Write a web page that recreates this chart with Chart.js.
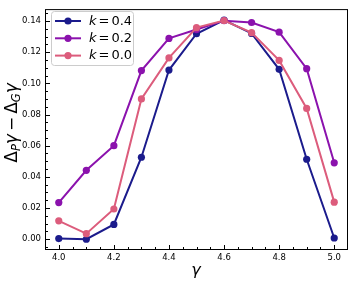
<!DOCTYPE html>
<html>
<head>
<meta charset="utf-8">
<script src="https://cdn.jsdelivr.net/npm/chart.js@4.4.1/dist/chart.umd.min.js"></script>
<style>
  html, body { margin: 0; padding: 0; background: #fff; }
  canvas { display: block; }
</style>
</head>
<body>
<canvas id="gapChart" width="353" height="283"></canvas>
<script>
const gammaVals = [4.0, 4.1, 4.2, 4.3, 4.4, 4.5, 4.6, 4.7, 4.8, 4.9, 5.0]
const k04 = [0.0004, 0.0000, 0.0095, 0.0526, 0.1085, 0.1318, 0.1405, 0.1320, 0.1090, 0.0513, 0.0008]
const k02 = [0.0235, 0.0442, 0.0600, 0.1082, 0.1288, 0.1345, 0.1402, 0.1390, 0.1328, 0.1094, 0.0490]
const k00 = [0.0118, 0.0036, 0.0194, 0.0900, 0.1163, 0.1357, 0.1403, 0.1325, 0.1147, 0.0839, 0.0238]
const seriesNames = ['0.4', '0.2', '0.0']
const xTicks = [4.0, 4.2, 4.4, 4.6, 4.8, 5.0]
const yTicks = [0.00, 0.02, 0.04, 0.06, 0.08, 0.10, 0.12, 0.14]

const colors = ['#1b1b8c', '#8b12ad', '#dc5c7c']
const FONT = '"DejaVu Sans", sans-serif'

function makeSet(vals, i) {
    return {
        label: 'k = ' + seriesNames[i],
        data: vals.map((v, j) => ({ x: gammaVals[j], y: v })),
        borderColor: colors[i],
        backgroundColor: colors[i],
        borderWidth: 2,
        pointRadius: 3.6,
        pointBorderWidth: 0,
        tension: 0,
        order: 3 - i
    }
}

// frame, inward ticks, legend box and axis titles
const decor = {
    id: 'decor',
    afterDraw(chart) {
        const c = chart.ctx
        const a = chart.chartArea
        const xs = chart.scales.x, ys = chart.scales.y
        c.save()
        c.strokeStyle = '#000'
        c.lineWidth = 1
        c.strokeRect(a.left + 0.5, a.top + 0.5, a.right - a.left - 1, a.bottom - a.top - 1)

        c.beginPath()
        for (let i = 0; i <= 22; i++) {
            const v = 3.95 + i * 0.05
            if (v < xs.min || v > xs.max) continue
            const px = Math.round(xs.getPixelForValue(v)) + 0.5
            const len = (i % 4 === 1) ? 5 : 3
            c.moveTo(px, a.bottom)
            c.lineTo(px, a.bottom - len)
        }
        for (let i = -1; i <= 29; i++) {
            const v = i * 0.005
            if (v < ys.min || v > ys.max) continue
            const py = Math.round(ys.getPixelForValue(v)) + 0.5
            const len = (i % 4 === 0) ? 5 : 3
            c.moveTo(a.left, py)
            c.lineTo(a.left + len, py)
        }
        c.stroke()

        // legend
        const lx = 51, ly = 11, lw = 82, lh = 54
        c.fillStyle = 'rgba(255,255,255,0.8)'
        c.strokeStyle = '#cccccc'
        c.beginPath()
        c.roundRect(lx + 0.5, ly + 0.5, lw, lh, 3)
        c.fill()
        c.stroke()
        seriesNames.forEach((name, i) => {
            const y = 21 + i * 17.3
            c.strokeStyle = colors[i]
            c.fillStyle = colors[i]
            c.lineWidth = 2
            c.beginPath()
            c.moveTo(55, y)
            c.lineTo(81, y)
            c.stroke()
            c.beginPath()
            c.arc(68, y, 3.6, 0, Math.PI * 2)
            c.fill()
            c.fillStyle = '#000'
            c.textBaseline = 'middle'
            c.textAlign = 'left'
            c.font = 'italic 13px ' + FONT
            c.fillText('k', 89, y + 0.5)
            const kw = c.measureText('k').width
            c.font = '13px ' + FONT
            c.fillText('=' , 89 + kw + 2, y + 0.5)
            const ew = c.measureText('=').width
            c.fillText(name, 89 + kw + ew + 4, y + 0.5)
        })

        // x title
        c.fillStyle = '#000'
        c.font = 'italic 16px ' + FONT
        c.textAlign = 'center'
        c.textBaseline = 'middle'
        c.fillText('γ', 196, 271)

        // y title with subscripts
        const parts = [
            { t: 'Δ', f: '17px', dy: 0 },
            { t: 'P', f: 'italic 11.5px', dy: 4 },
            { t: 'γ', f: 'italic 17px', dy: 0, gap: 3 },
            { t: '−', f: '17px', dy: 0, gap: 3 },
            { t: 'Δ', f: '17px', dy: 0 },
            { t: 'G', f: 'italic 11.5px', dy: 4 },
            { t: 'γ', f: 'italic 17px', dy: 0 }
        ]
        let total = 0
        parts.forEach(p => {
            c.font = p.f + ' ' + FONT
            p.w = c.measureText(p.t).width + (p.gap || 0)
            total += p.w
        })
        c.translate(13, 123)
        c.rotate(-Math.PI / 2)
        c.textAlign = 'left'
        c.textBaseline = 'middle'
        let x = -total / 2
        parts.forEach(p => {
            c.font = p.f + ' ' + FONT
            c.fillText(p.t, x, p.dy)
            x += p.w
        })
        c.restore()
    }
}

const chart = new Chart(document.getElementById('gapChart').getContext('2d'), {
    type: 'line',
    data: {
        datasets: [makeSet(k04, 0), makeSet(k02, 1), makeSet(k00, 2)]
    },
    options: {
        responsive: false,
        animation: false,
        layout: { padding: { top: 5, right: 5, left: 0, bottom: 0 } },
        plugins: { legend: { display: false }, tooltip: { enabled: false } },
        scales: {
            x: {
                type: 'linear',
                min: 3.95,
                max: 5.05,
                afterBuildTicks: s => { s.ticks = xTicks.map(v => ({ value: v })) },
                afterFit: s => { s.height = 33 },
                grid: { display: false, drawTicks: false },
                border: { display: false },
                ticks: {
                    padding: 3,
                    color: '#000',
                    font: { family: 'DejaVu Sans', size: 8.5 },
                    maxRotation: 0,
                    callback: v => v.toFixed(1)
                }
            },
            y: {
                type: 'linear',
                min: -0.0069,
                max: 0.1476,
                afterBuildTicks: s => { s.ticks = yTicks.map(v => ({ value: v })) },
                afterFit: s => { s.width = 45 },
                grid: { display: false, drawTicks: false },
                border: { display: false },
                ticks: {
                    padding: 4,
                    color: '#000',
                    font: { family: 'DejaVu Sans', size: 8.5 },
                    callback: v => v.toFixed(2)
                }
            }
        }
    },
    plugins: [decor]
})
</script>
</body>
</html>
